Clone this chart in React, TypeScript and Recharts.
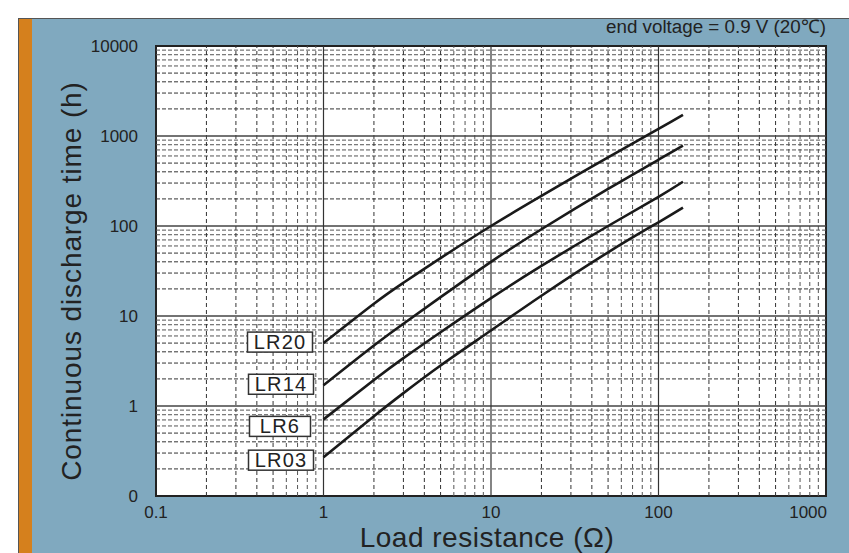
import React from "react";
import { LineChart, Line, XAxis, YAxis, ReferenceLine, ReferenceArea } from "recharts";

// load resistance (ohm) where the curves were read
const resistance = [1, 2, 3, 5, 10, 20, 50, 100, 140];
// continuous discharge time (h)
const lr20 = [5.0, 13.7, 23.4, 44, 100, 216, 580, 1200, 1720];
const lr14 = [1.7, 4.7, 8.2, 16.2, 40, 92, 258, 545, 780];
const lr6 = [0.71, 1.94, 3.4, 6.6, 15.8, 36, 100, 211, 310];
const lr03 = [0.27, 0.77, 1.39, 2.82, 6.9, 16.8, 51, 110, 160];

const seriesNames = ["LR20", "LR14", "LR6", "LR03"];
const xTicks = [0.1, 1, 10, 100, 1000];
const yTicks = [0.1, 1, 10, 100, 1000, 10000];

const rows = resistance.map((r, i) => ({
  r,
  LR20: lr20[i],
  LR14: lr14[i],
  LR6: lr6[i],
  LR03: lr03[i],
}));

const minors = (majors: number[]) =>
  majors.slice(0, -1).flatMap((d) => [2, 3, 4, 5, 6, 7, 8, 9].map((m) => ({ v: +(m * d).toPrecision(3), m })));

const xMinor = minors(xTicks);
const yMinor = minors(yTicks);

const FONT = '"Liberation Sans", Arial, sans-serif';
const INK = "#222";

// tag box next to the start of each curve
const tagBox: Record<string, { w: number; gap: number; dy: number }> = {
  LR20: { w: 65, gap: 11, dy: -1 },
  LR14: { w: 65, gap: 10, dy: -1 },
  LR6: { w: 61, gap: 13, dy: 7 },
  LR03: { w: 65, gap: 10, dy: 3 },
};

const makeTag = (name: string) => (props: any) => {
  if (props.index !== 0) return null;
  const b = tagBox[name];
  const right = props.x - b.gap;
  const cy = props.y + b.dy;
  return (
    <g>
      <rect x={right - b.w} y={cy - 10} width={b.w} height={20} fill="#fff" stroke="#333" strokeWidth={1.5} />
      <text x={right - b.w / 2} y={cy + 7} textAnchor="middle" fontSize={20} letterSpacing={1.2} fill={INK} fontFamily={FONT}>
        {name}
      </text>
    </g>
  );
};

const XTick = (props: any) => {
  const { x, y, payload } = props;
  const last = payload.value === 1000;
  return (
    <text x={last ? x + 1 : x} y={y} dy={12} textAnchor={last ? "end" : "middle"} fontSize={17} fill={INK} fontFamily={FONT}>
      {payload.value}
    </text>
  );
};

const YTitle = (props: any) => {
  const vb = props.viewBox;
  const x = vb.x - 15;
  const y = vb.y + vb.height / 2 + 10;
  return (
    <text x={x} y={y} transform={`rotate(-90, ${x}, ${y})`} textAnchor="middle" fontSize={28} letterSpacing={0.9} fill={INK} fontFamily={FONT}>
      Continuous discharge time (h)
    </text>
  );
};

const XTitle = (props: any) => {
  const vb = props.viewBox;
  return (
    <text x={vb.x + vb.width / 2 - 4} y={vb.y + 51} textAnchor="middle" fontSize={28} letterSpacing={0.5} fill={INK} fontFamily={FONT}>
      Load resistance (Ω)
    </text>
  );
};

export default function App() {
  return (
    <div style={{ position: "absolute", left: 0, top: 0, width: 849, height: 553, background: "#fff", overflow: "hidden" }}>
      <div
        style={{
          position: "absolute",
          left: 18,
          top: 18,
          right: 0,
          bottom: 0,
          background: "#80a9bf",
          borderLeft: "1px solid #555",
          borderTop: "1px solid #555",
        }}
      />
      <div style={{ position: "absolute", left: 19, top: 19, width: 13, bottom: 0, background: "#d5801d" }} />
      <div
        style={{
          position: "absolute",
          top: 17,
          right: 23,
          fontSize: 18.8,
          lineHeight: "19px",
          color: INK,
          fontFamily: FONT,
          whiteSpace: "nowrap",
        }}
      >
        end voltage = 0.9 V (20℃)
      </div>
      <div style={{ position: "absolute", left: 0, top: 0 }}>
        <LineChart width={849} height={553} data={rows} margin={{ top: 46, right: 23, bottom: 27, left: 96 }}>
          <XAxis
            dataKey="r"
            type="number"
            scale="log"
            domain={[0.1, 1000]}
            ticks={xTicks}
            allowDataOverflow
            height={30}
            tickLine={false}
            axisLine={false}
            tickSize={0}
            tickMargin={10}
            tick={<XTick />}
            label={<XTitle />}
          />
          <YAxis
            type="number"
            scale="log"
            domain={[0.1, 10000]}
            ticks={yTicks}
            allowDataOverflow
            width={60}
            tickLine={false}
            axisLine={false}
            tickSize={0}
            tickMargin={18}
            tick={{ fontSize: 17, fill: INK, fontFamily: FONT }}
            tickFormatter={(v: number) => (v === 0.1 ? "0" : String(v))}
            label={<YTitle />}
          />
          <ReferenceArea x1={0.1} x2={1000} y1={0.1} y2={10000} fill="#fff" fillOpacity={1} stroke="none" />
          {yMinor.map(({ v, m }) => (
            <ReferenceLine
              key={"ym" + v}
              y={v}
              stroke={m >= 6 ? "#555" : "#333"}
              strokeWidth={1}
              strokeDasharray="4 2"
            />
          ))}
          {xMinor.map(({ v, m }) => (
            <ReferenceLine
              key={"xm" + v}
              x={v}
              stroke={m >= 6 ? "#555" : "#333"}
              strokeWidth={1}
              strokeDasharray="4 3"
            />
          ))}
          {yTicks.slice(1, -1).map((v) => (
            <ReferenceLine key={"y" + v} y={v} stroke="#444" strokeWidth={1.3} />
          ))}
          {xTicks.slice(1, -1).map((v) => (
            <ReferenceLine key={"x" + v} x={v} stroke="#333" strokeWidth={1.2} />
          ))}
          <ReferenceArea x1={0.1} x2={1000} y1={0.1} y2={10000} fill="none" stroke="#222" strokeWidth={2} />
          {seriesNames.map((name) => (
            <Line
              key={name}
              dataKey={name}
              type="natural"
              stroke="#1a1a1a"
              strokeWidth={2.6}
              dot={false}
              activeDot={false}
              isAnimationActive={false}
              label={makeTag(name)}
            />
          ))}
        </LineChart>
      </div>
    </div>
  );
}
